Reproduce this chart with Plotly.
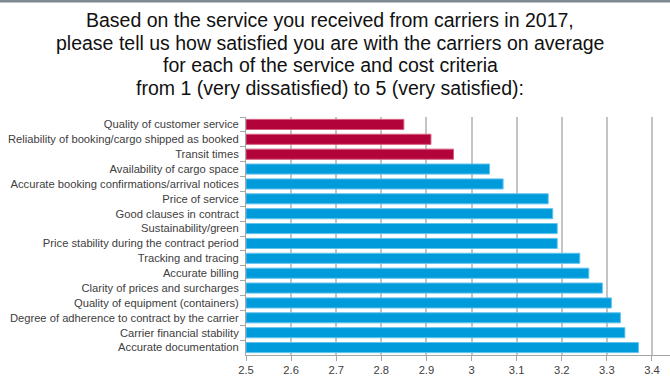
import plotly.graph_objects as go

categories = [
    "Quality of customer service",
    "Reliability of booking/cargo shipped as booked",
    "Transit times",
    "Availability of cargo space",
    "Accurate booking confirmations/arrival notices",
    "Price of service",
    "Good clauses in contract",
    "Sustainability/green",
    "Price stability during the contract period",
    "Tracking and tracing",
    "Accurate billing",
    "Clarity of prices and surcharges",
    "Quality of equipment (containers)",
    "Degree of adherence to contract by the carrier",
    "Carrier financial stability",
    "Accurate documentation",
]
values = [2.85, 2.91, 2.96, 3.04, 3.07, 3.17, 3.18, 3.19, 3.19, 3.24, 3.26, 3.29, 3.31, 3.33, 3.34, 3.37]
highlighted = [True, True, True] + [False] * 13

x_ticks = [2.5, 2.6, 2.7, 2.8, 2.9, 3.0, 3.1, 3.2, 3.3, 3.4]
x_tick_labels = ["2.5", "2.6", "2.7", "2.8", "2.9", "3", "3.1", "3.2", "3.3", "3.4"]

title_lines = [
    "Based on the service you received from carriers in 2017,",
    "please tell us how satisfied you are with the carriers on average",
    "for each of the service and cost criteria",
    "from 1 (very dissatisfied) to 5 (very satisfied):",
]

RED = "#B2043A"
RED_LINE = "#D75C7E"
BLUE = "#009BDB"
BLUE_LINE = "#62C3EE"

W, H = 670, 380
ML, MT, MB, MR = 246, 117, 25, 0
PH = H - MT - MB
PW = W - ML - MR

fill_colors = [RED if h else BLUE for h in highlighted]
line_colors = [RED_LINE if h else BLUE_LINE for h in highlighted]

fig = go.Figure(
    go.Bar(
        x=[v - 2.5 for v in values],
        base=2.5,
        y=categories,
        orientation="h",
        marker=dict(color=fill_colors, line=dict(color=line_colors, width=1)),
        width=0.68,
        hoverinfo="x+y",
    )
)

fig.update_layout(
    width=W,
    height=H,
    margin=dict(l=ML, r=MR, t=MT, b=MB, autoexpand=False),
    paper_bgcolor="white",
    plot_bgcolor="white",
    showlegend=False,
    font=dict(family="Liberation Sans, Arial, sans-serif", color="#404040", size=11.2),
    xaxis=dict(
        range=[2.5, 3.44],
        tickvals=x_ticks,
        ticktext=x_tick_labels,
        showgrid=True,
        gridcolor="#C4C4C4",
        gridwidth=1.5,
        zeroline=False,
        showline=True,
        linecolor="#A6A6A6",
        linewidth=1,
        ticks="outside",
        ticklen=5,
        tickcolor="#A6A6A6",
        tickfont=dict(size=11.2, color="#404040"),
        automargin=False,
    ),
    yaxis=dict(
        categoryorder="array",
        categoryarray=categories,
        autorange="reversed",
        showline=True,
        linecolor="#A6A6A6",
        linewidth=1,
        ticks="outside",
        tickson="boundaries",
        ticklen=5,
        tickcolor="#A6A6A6",
        showgrid=False,
        tickfont=dict(size=11.2, color="#404040"),
        ticklabelstandoff=4,
        automargin=False,
    ),
)

line_y_px = [20, 43, 65.5, 88]
for txt, ypx in zip(title_lines, line_y_px):
    fig.add_annotation(
        text=txt,
        xref="paper",
        yref="paper",
        x=(330 - ML) / PW,
        y=1 + (MT - ypx) / PH,
        xanchor="center",
        yanchor="middle",
        showarrow=False,
        align="center",
        font=dict(family="Liberation Sans, Arial, sans-serif", size=19.5, color="#111111"),
    )

fig.add_shape(
    type="rect",
    xref="paper",
    yref="paper",
    x0=-ML / PW,
    x1=1.0,
    y0=1 + (MT - 2.5) / PH,
    y1=1 + (MT + 1) / PH,
    fillcolor="#7D8A90",
    line=dict(width=0),
    layer="above",
)

fig.write_html(
    "out.html",
    config={"displayModeBar": False},
    post_script="document.body.style.margin='0';document.body.style.padding='0';document.body.style.overflow='hidden';",
)
